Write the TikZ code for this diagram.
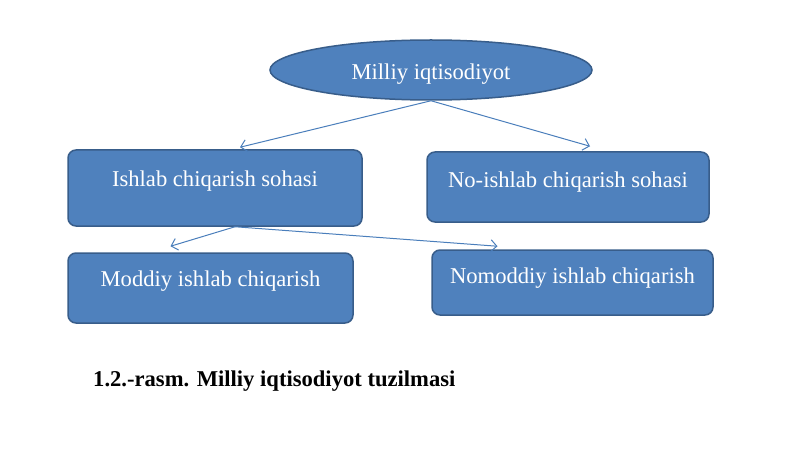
\documentclass[tikz,border=0pt]{standalone}
\usepackage{fontspec}
\setmainfont{Liberation Serif}
\usetikzlibrary{shapes.geometric,arrows.meta}
\definecolor{boxfill}{HTML}{4F81BD}
\definecolor{boxline}{HTML}{385D8A}
\definecolor{arrowcol}{HTML}{4A7EBB}
\tikzset{
  blockbox/.style={draw=boxline, fill=boxfill, line width=1.5pt, rounded corners=8pt,
    text=white, font=\fontsize{22.6}{26}\selectfont, inner sep=0pt, text height=15pt},
  rootell/.style={ellipse, draw=boxline, fill=boxfill, line width=1.5pt,
    text=white, font=\fontsize{22.6}{26}\selectfont, inner sep=0pt,
    minimum width=322pt, minimum height=60pt, text height=24pt, text depth=5pt},
  conn/.style={draw=arrowcol, line width=1pt, -{Straight Barb[length=6pt,width=12pt]}},
}
\begin{document}
\begin{tikzpicture}[x=1pt,y=-1pt]
\useasboundingbox (0,0) rectangle (800,449);
\node[rootell] (root) at (431,70) {Milliy iqtisodiyot};
\node[blockbox, minimum width=294pt, minimum height=76pt, text depth=19pt] (b1) at (215,188) {Ishlab chiqarish sohasi};
\node[blockbox, minimum width=282pt, minimum height=70pt, text depth=14pt] (b2) at (568,187) {No-ishlab chiqarish sohasi};
\node[blockbox, minimum width=285pt, minimum height=70pt, text depth=18pt] (b3) at (210.5,288) {Moddiy ishlab chiqarish};
\node[blockbox, minimum width=281pt, minimum height=65pt, text depth=13pt] (b4) at (572.5,282.5) {Nomoddiy ishlab chiqarish};
\draw[conn] (root.south) -- ([xshift=25pt,yshift=2pt]b1.north);
\draw[conn] (root.south) -- ([xshift=22pt,yshift=5pt]b2.north);
\draw[conn] ([xshift=20pt]b1.south) -- ([xshift=-40pt,yshift=6pt]b3.north);
\draw[conn] ([xshift=20pt]b1.south) -- ([xshift=-75pt,yshift=3pt]b4.north);
\node[anchor=west, font=\fontsize{22.6}{26}\selectfont\bfseries, inner sep=0pt] (cap) at (93,381) {1.2.-rasm. Milliy iqtisodiyot tuzilmasi};
\end{tikzpicture}
\end{document}
